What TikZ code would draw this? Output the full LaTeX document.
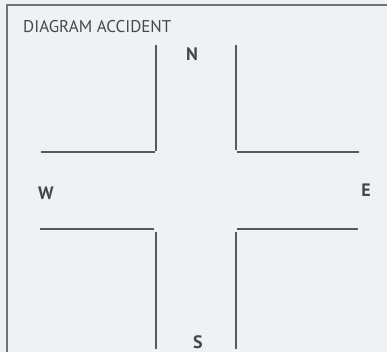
\documentclass[tikz,border=0pt]{standalone}
\usepackage{fontspec}
\setmainfont{PT Sans}
\begin{document}
\begin{tikzpicture}[x=1pt,y=-1pt,
  road/.style={draw=black!65, line width=1.2pt},
  frame/.style={draw=black!55, line width=2pt},
  lbl/.style={font=\bfseries\fontsize{18}{20}\selectfont, text=black!72, inner sep=0pt},
  ttl/.style={font=\fontsize{17}{19}\selectfont, text=black!72, inner sep=0pt, anchor=west}]
\fill[fill={rgb,255:red,238;green,242;blue,244}] (0,0) rectangle (387,352);
\useasboundingbox (0,0) rectangle (387,352);
\coordinate (ftl) at (7,5);
\coordinate (ftr) at (387,5);
\coordinate (fbl) at (7,352);
\draw[frame] (ftr) -- (ftl) -- (fbl);
\node[ttl] (title) at (23,27) {DIAGRAM ACCIDENT};
% corners
\coordinate (nw1) at (156,45);
\coordinate (nw2) at (156,151);
\coordinate (nw3) at (41,152);
\coordinate (nw4) at (155,152);
\coordinate (ne1) at (236,45);
\coordinate (ne2) at (236,150);
\coordinate (ne3) at (237,152);
\coordinate (ne4) at (359,152);
\coordinate (sw1) at (40,229);
\coordinate (sw2) at (154,229);
\coordinate (sw3) at (156,232);
\coordinate (sw4) at (156,349);
\coordinate (se1) at (237,229);
\coordinate (se2) at (358,229);
\coordinate (se3) at (236,232);
\coordinate (se4) at (236,349);
\draw[road] (nw1) -- (nw2);
\draw[road] (nw3) -- (nw4);
\draw[road] (ne1) -- (ne2);
\draw[road] (ne3) -- (ne4);
\draw[road] (sw1) -- (sw2);
\draw[road] (sw3) -- (sw4);
\draw[road] (se1) -- (se2);
\draw[road] (se3) -- (se4);
\node[lbl] (N) at (192,54) {N};
\node[lbl] (W) at (46,193) {W};
\node[lbl] (E) at (366,190) {E};
\node[lbl] (S) at (198,342) {S};
\end{tikzpicture}
\end{document}
